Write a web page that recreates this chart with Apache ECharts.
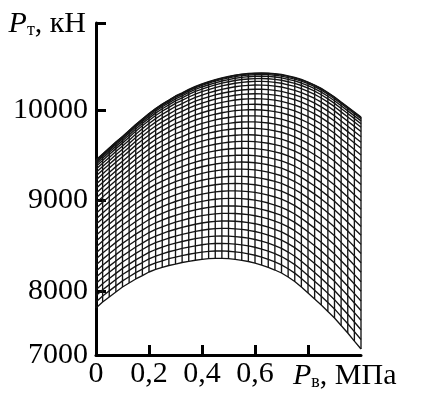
<!DOCTYPE html>
<html>
<head>
<meta charset="utf-8">
<script src="https://cdn.jsdelivr.net/npm/echarts@6/dist/echarts.min.js"></script>
<style>
html,body{margin:0;padding:0;background:#fff;}
#c{width:427px;height:394px;}
</style>
</head>
<body>
<div id="c"></div>
<script>
// P_в grid positions (MPa) of the mesh columns
const pv = [0,0.025,0.05,0.075,0.1,0.125,0.15,0.175,0.2,0.225,0.25,0.275,0.3,0.325,0.35,0.375,0.4,0.425,0.45,0.475,0.5,0.525,0.55,0.575,0.6,0.625,0.65,0.675,0.7,0.725,0.75,0.775,0.8,0.825,0.85,0.875,0.9,0.925,0.95,0.975,1];
// lower boundary curve of the surface (kN)
const lowerEdge = [7812,7878,7934,7989,8044,8088,8133,8171,8210,8238,8260,8282,8298,8315,8328,8340,8350,8358,8361,8361,8357,8349,8339,8326,8309,8287,8262,8232,8199,8155,8105,8044,7978,7912,7845,7773,7702,7619,7536,7447,7359];
// upper boundary curve of the surface (kN)
const upperEdge = [9448,9514,9580,9646,9707,9773,9840,9901,9961,10017,10066,10110,10155,10188,10227,10260,10287,10312,10334,10354,10370,10385,10396,10403,10408,10409,10407,10401,10392,10376,10359,10337,10309,10276,10238,10193,10144,10088,10033,9978,9923];
// relative positions of the mesh curves between the lower and upper edge
const meshLevels = [0,0.041,0.083,0.124,0.166,0.207,0.249,0.290,0.331,0.372,0.412,0.451,0.490,0.528,0.565,0.602,0.639,0.674,0.709,0.743,0.775,0.807,0.836,0.865,0.891,0.915,0.937,0.956,0.971,0.983,0.992,0.998,1];
// tick labels
const xTickValues = [0,0.2,0.4,0.6];
const xTickLabels = ['0','0,2','0,4','0,6'];
const yTickValues = [8000,9000,10000];
const yTickLabels = ['8000','9000','10000'];
const yCornerLabel = '7000';
const yMin = 7293, yMax = 10961;

const chart = echarts.init(document.getElementById('c'), null, {renderer:'canvas'});
const series = [];
const lineColor = '#141414';
meshLevels.forEach(f => {
  series.push({
    type:'line', silent:true, showSymbol:false, animation:false,
    lineStyle:{color:lineColor, width:1.35},
    data: pv.map((x,i) => [x, lowerEdge[i] + f*(upperEdge[i]-lowerEdge[i])])
  });
});
pv.forEach((x,i) => {
  series.push({
    type:'line', silent:true, showSymbol:false, animation:false,
    lineStyle:{color:lineColor, width:1.35},
    data: [[x, lowerEdge[i]], [x, upperEdge[i]]]
  });
});

const serif = '"Liberation Serif","DejaVu Serif",serif';
const axisLineStyle = {color:'#000', width:3};
const fs = 30;
chart.setOption({
  animation:false,
  backgroundColor:'#fff',
  grid:{left:96, right:66, top:23, bottom:39},
  xAxis:{
    type:'value', min:0, max:1,
    axisLine:{show:true, lineStyle:axisLineStyle},
    axisTick:{show:true, inside:true, length:10, lineStyle:{color:'#000', width:3}, customValues:[0.2,0.4,0.6,0.8]},
    axisLabel:{customValues:xTickValues, margin:4, fontFamily:serif, fontSize:fs, color:'#000',
      formatter: v => { const k = xTickValues.findIndex(t => Math.abs(t-v) < 1e-9); return k >= 0 ? xTickLabels[k] : ''; }},
    splitLine:{show:false},
    name:'{i|P}{s|в}{n|, МПа}',
    nameLocation:'end', nameGap:-68,
    nameTextStyle:{align:'left', verticalAlign:'top', padding:[5,0,0,0],
      rich:{
        i:{fontFamily:serif, fontStyle:'italic', fontSize:fs, color:'#000', lineHeight:31, verticalAlign:'bottom'},
        s:{fontFamily:serif, fontSize:18, color:'#000', lineHeight:22, verticalAlign:'bottom'},
        n:{fontFamily:serif, fontSize:fs, color:'#000', lineHeight:31, verticalAlign:'bottom'}
      }}
  },
  yAxis:{
    type:'value', min:yMin, max:yMax,
    axisLine:{show:true, lineStyle:axisLineStyle},
    axisTick:{show:true, inside:true, length:10, lineStyle:{color:'#000', width:3}, customValues:[8000,9000,10000,yMax]},
    axisLabel:{customValues:[yMin].concat(yTickValues), margin:8, fontFamily:serif, fontSize:fs, color:'#000',
      formatter: v => { if (v < 7500) return yCornerLabel; const k = yTickValues.indexOf(v); return k >= 0 ? yTickLabels[k] : ''; }},
    splitLine:{show:false},
    name:'{i|P}{s|т}{n|, кН}',
    nameLocation:'end', nameGap:-16,
    nameTextStyle:{align:'right', verticalAlign:'bottom', padding:[0,10,0,0],
      rich:{
        i:{fontFamily:serif, fontStyle:'italic', fontSize:fs, color:'#000', lineHeight:31, verticalAlign:'bottom'},
        s:{fontFamily:serif, fontSize:18, color:'#000', lineHeight:22, verticalAlign:'bottom'},
        n:{fontFamily:serif, fontSize:fs, color:'#000', lineHeight:31, verticalAlign:'bottom'}
      }}
  },
  series: series
});
</script>
</body>
</html>
